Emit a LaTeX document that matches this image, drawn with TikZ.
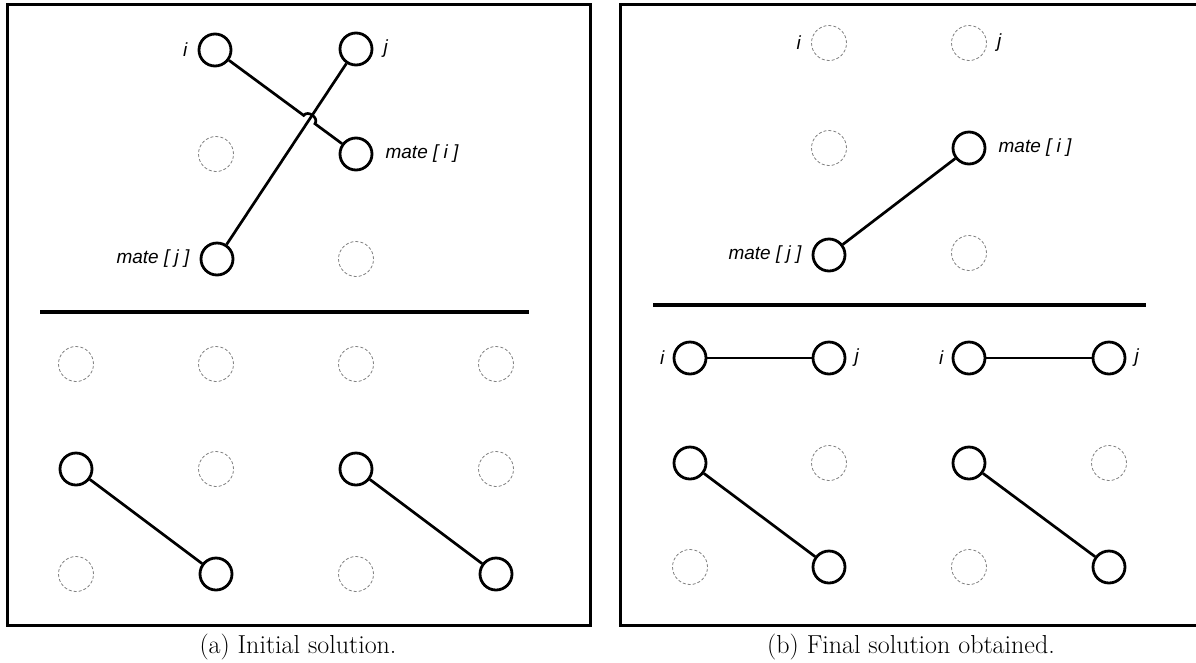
\documentclass[tikz,border=0pt]{standalone}
\usepackage{fontspec}
\usetikzlibrary{positioning,calc}
\newfontfamily\labfam{Liberation Sans}
\newcommand\labfont{\labfam\itshape\fontsize{19}{21}\selectfont}
\newcommand\capfont{\fontsize{26}{30}\selectfont}
\tikzset{
  sol/.style={circle, draw, line width=2.8pt, minimum size=32pt, inner sep=0pt},
  dsh/.style={circle, draw=gray, line width=0.8pt, dash pattern=on 3pt off 2pt, minimum size=35pt, inner sep=0pt},
  edge/.style={line width=2.7pt},
  sepline/.style={line width=4pt},
  frame/.style={line width=3pt},
  lab/.style={font=\labfont, inner sep=1pt},
  captext/.style={font=\capfont, inner sep=0pt}
}
\begin{document}
\begin{tikzpicture}[x=1pt,y=-1pt]
\useasboundingbox (0,0) rectangle (1196,662);

% ---------------- panel (a) ----------------
\draw[frame] (7,4) rectangle (590,625);
\node[sol] (ai)  at (215,50)  {};
\node[sol] (aj)  at (356,49)  {};
\node[dsh] (ad1) at (216,154) {};
\node[sol] (ami) at (356,154) {};
\node[sol] (amj) at (217,259) {};
\node[dsh] (ad2) at (356,259) {};
\node[lab, left=9pt of ai]   (lai)  {i};
\node[lab, right=9pt of aj]  (laj)  {j};
\node[lab, right=11pt of ami] (lami) {mate [ i ]};
\node[lab, left=9pt of amj]  (lamj) {mate [ j ]};
\coordinate (aX) at (intersection of ai.center--ami.center and amj.center--aj.center);
\draw[edge] (amj) -- (aj);
\draw[edge] (ai) -- ($(aX)!7pt!(ai.center)$) to[bend left=90, looseness=1.3] ($(aX)!7pt!(ami.center)$) -- (ami);
\coordinate (asepL) at (40,312);
\coordinate (asepR) at (529,312);
\draw[sepline] (asepL) -- (asepR);
% grid
\node[dsh] (a11) at (76,364)  {};
\node[dsh] (a12) at (216,364) {};
\node[dsh] (a13) at (356,364) {};
\node[dsh] (a14) at (496,364) {};
\node[sol] (a21) at (76,469)  {};
\node[dsh] (a22) at (216,469) {};
\node[sol] (a23) at (356,469) {};
\node[dsh] (a24) at (496,469) {};
\node[dsh] (a31) at (76,574)  {};
\node[sol] (a32) at (216,574) {};
\node[dsh] (a33) at (356,574) {};
\node[sol] (a34) at (496,574) {};
\draw[edge] (a21) -- (a32);
\draw[edge] (a23) -- (a34);
\node[captext] (capa) at (298,647) {(a) Initial solution.};

% ---------------- panel (b) ----------------
\draw[frame] (620,4) rectangle (1203,625);
\node[dsh] (bi)  at (829,43)  {};
\node[dsh] (bj)  at (969,43)  {};
\node[dsh] (bd1) at (829,148) {};
\node[sol] (bmi) at (969,148) {};
\node[sol] (bmj) at (829,255) {};
\node[dsh] (bd2) at (969,253) {};
\node[lab, left=9pt of bi]   (lbi)  {i};
\node[lab, right=9pt of bj]  (lbj)  {j};
\node[lab, right=11pt of bmi] (lbmi) {mate [ i ]};
\node[lab, left=9pt of bmj]  (lbmj) {mate [ j ]};
\draw[edge] (bmj) -- (bmi);
\coordinate (bsepL) at (653,305);
\coordinate (bsepR) at (1146,305);
\draw[sepline] (bsepL) -- (bsepR);
% grid
\node[sol] (b11) at (690,358)  {};
\node[sol] (b12) at (829,358)  {};
\node[sol] (b13) at (969,358)  {};
\node[sol] (b14) at (1109,358) {};
\node[sol] (b21) at (690,463)  {};
\node[dsh] (b22) at (829,463)  {};
\node[sol] (b23) at (969,463)  {};
\node[dsh] (b24) at (1109,463) {};
\node[dsh] (b31) at (690,567)  {};
\node[sol] (b32) at (829,567)  {};
\node[dsh] (b33) at (969,567)  {};
\node[sol] (b34) at (1109,567) {};
\node[lab, left=7pt of b11]  (lb11) {i};
\node[lab, right=7pt of b12] (lb12) {j};
\node[lab, left=7pt of b13]  (lb13) {i};
\node[lab, right=7pt of b14] (lb14) {j};
\draw[edge] (b11) -- (b12);
\draw[edge] (b13) -- (b14);
\draw[edge] (b21) -- (b32);
\draw[edge] (b23) -- (b34);
\node[captext] (capb) at (911,647) {(b) Final solution obtained.};
\end{tikzpicture}
\end{document}
